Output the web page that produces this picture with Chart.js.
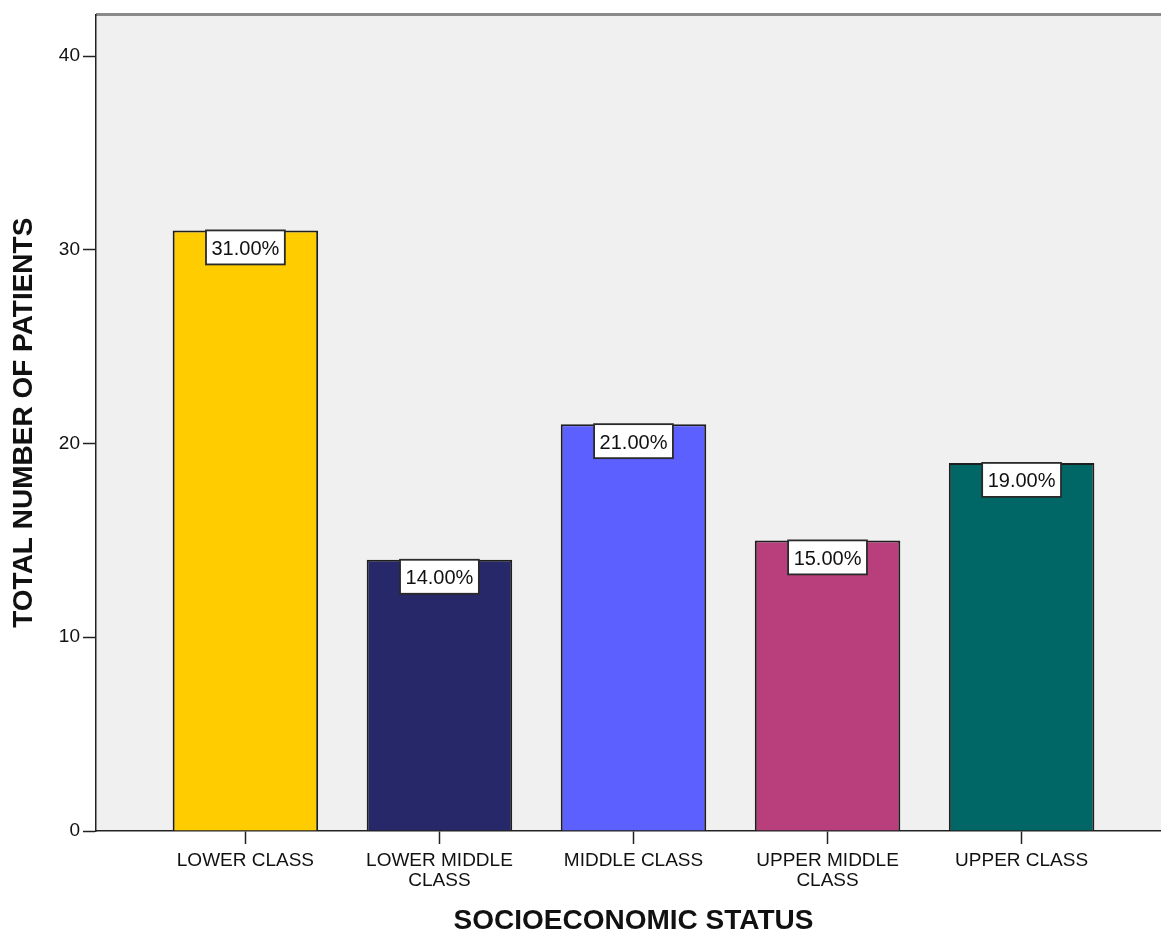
<!DOCTYPE html>
<html>
<head>
<meta charset="utf-8">
<script src="https://cdn.jsdelivr.net/npm/chart.js@4"></script>
<style>
html,body{margin:0;padding:0;background:#fff;}
#wrap{width:1161px;height:935px;overflow:hidden;position:relative;}
canvas{display:block;}
</style>
</head>
<body>
<div id="wrap"><canvas id="c" width="1171" height="935"></canvas></div>
<script>
const categories = ['LOWER CLASS', ['LOWER MIDDLE', 'CLASS'], 'MIDDLE CLASS', ['UPPER MIDDLE', 'CLASS'], 'UPPER CLASS'];
const patients = [31, 14, 21, 15, 19];
const barColors = ['#FFCC00', '#262869', '#5C60FF', '#B93F7C', '#006666'];
const yTicks = [0, 10, 20, 30, 40];
const xTitle = 'SOCIOECONOMIC STATUS';
const yTitle = 'TOTAL NUMBER OF PATIENTS';

const total = patients.reduce((a, b) => a + b, 0);
const FONT = '"Liberation Sans", Arial, sans-serif';

const plotBg = {
  id: 'plotBg',
  beforeDraw(chart) {
    const {ctx, chartArea: a} = chart;
    ctx.save();
    ctx.fillStyle = '#F0F0F0';
    ctx.fillRect(a.left, a.top, a.right - a.left, a.bottom - a.top);
    ctx.strokeStyle = '#8A8A8A';
    ctx.lineWidth = 3;
    ctx.beginPath();
    ctx.moveTo(a.left, a.top);
    ctx.lineTo(a.right, a.top);
    ctx.stroke();
    ctx.restore();
  }
};

const pctLabels = {
  id: 'pctLabels',
  afterDatasetsDraw(chart) {
    const {ctx} = chart;
    const meta = chart.getDatasetMeta(0);
    ctx.save();
    ctx.font = '20px ' + FONT;
    ctx.textAlign = 'center';
    ctx.textBaseline = 'middle';
    meta.data.forEach((bar, i) => {
      const txt = (patients[i] / total * 100).toFixed(2) + '%';
      const w = ctx.measureText(txt).width + 11;
      const h = 34;
      const x = bar.x, y = bar.y;
      ctx.fillStyle = '#FFFFFF';
      ctx.fillRect(x - w / 2, y, w, h);
      ctx.strokeStyle = '#2A2A2A';
      ctx.lineWidth = 1.8;
      ctx.strokeRect(x - w / 2, y, w, h);
      ctx.fillStyle = '#111111';
      ctx.fillText(txt, x, y + 19);
    });
    ctx.restore();
  }
};

new Chart(document.getElementById('c'), {
  type: 'bar',
  data: {
    datasets: [{
      data: patients.map((v, i) => ({x: i, y: v})),
      backgroundColor: barColors,
      borderColor: '#1E1E1E',
      borderWidth: 2,
      categoryPercentage: 1,
      barPercentage: 0.75
    }]
  },
  options: {
    responsive: false,
    animation: false,
    devicePixelRatio: 1,
    layout: {padding: {top: 12, right: 0, left: 0, bottom: 0}},
    plugins: {legend: {display: false}, tooltip: {enabled: false}},
    scales: {
      x: {
        type: 'linear',
        offset: false,
        min: -0.77,
        max: 4.77,
        afterBuildTicks: s => { s.ticks = categories.map((c, i) => ({value: i})); },
        afterFit: s => { s.height = 104; },
        ticks: {
          autoSkip: false,
          maxRotation: 0,
          padding: 7,
          color: '#111',
          font: {family: FONT, size: 19, lineHeight: 1.05},
          callback: v => categories[v]
        },
        grid: {offset: false, drawOnChartArea: false, drawTicks: true, tickLength: 13, tickColor: '#222', tickWidth: 1.5},
        border: {display: true, color: '#222', width: 1.5},
        title: {display: true, text: xTitle, color: '#111', padding: 0,
          font: {family: FONT, size: 28, weight: 'bold', lineHeight: 1}}
      },
      y: {
        min: 0,
        max: 42.15,
        afterBuildTicks: s => { s.ticks = yTicks.map(v => ({value: v})); },
        afterFit: s => { s.width = 96; },
        ticks: {
          padding: 3,
          color: '#111',
          font: {family: FONT, size: 19}
        },
        grid: {drawOnChartArea: false, drawTicks: true, tickLength: 13, tickColor: '#222', tickWidth: 1.5},
        border: {display: true, color: '#222', width: 1.5},
        title: {display: true, text: yTitle, color: '#111', padding: {top: 10, bottom: 0},
          font: {family: FONT, size: 28, weight: 'bold', lineHeight: 1}}
      }
    }
  },
  plugins: [plotBg, pctLabels]
});
</script>
</body>
</html>
